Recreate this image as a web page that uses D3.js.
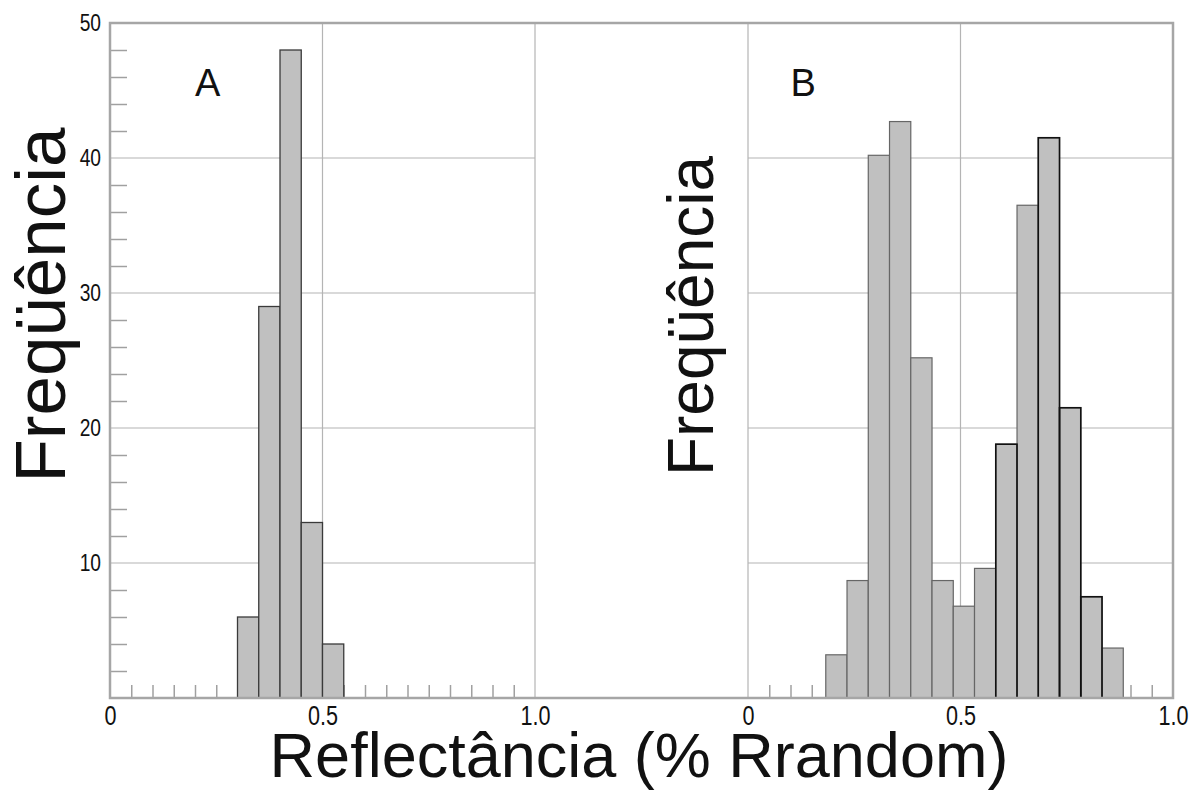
<!DOCTYPE html>
<html><head>
<meta charset="utf-8">
<title>Reflectância</title>
<script src="https://d3js.org/d3.v7.min.js"></script>
<style>
  body { margin: 0; background: #fff; }
  .grid { stroke: #b4b4b4; stroke-width: 1.2px; }
  .frame { stroke: #a6a6a6; stroke-width: 2.5px; fill: none; }
  .minor line { stroke: #a0a0a0; stroke-width: 1.5px; }
  .bar { fill: #c0c0c0; }
</style>
</head>
<body>
<svg id="chart" width="1189" height="792" font-family="Liberation Sans, Arial, sans-serif"></svg>
<script>
  // histogram A
  const binsA = [0.30, 0.35, 0.40, 0.45, 0.50];
  const countsA = [6, 29, 48, 13, 4];
  // histogram B
  const binsB = [0.183, 0.233, 0.283, 0.333, 0.383, 0.433, 0.483, 0.533, 0.583, 0.633, 0.683, 0.733, 0.783, 0.833];
  const countsB = [3.2, 8.7, 40.2, 42.7, 25.2, 8.7, 6.8, 9.6, 18.8, 36.5, 41.5, 21.5, 7.5, 3.7];
  // bins of B drawn with a black outline
  const outlinedB = [8, 10, 11, 12];
  const binWidth = 0.05;

  const yTicks = [10, 20, 30, 40, 50];
  const yMinor = d3.range(2, 50, 2).filter(d => d % 10 != 0);
  const xTicks = [0, 0.5, 1.0];
  const xMinor = d3.range(1, 20).map(d => d * 0.05).filter(d => Math.abs(d - 0.5) > 0.01);

  const svg = d3.select("#chart");
  const xA = d3.scaleLinear().domain([0, 1]).range([110, 535]);
  const xB = d3.scaleLinear().domain([0, 1]).range([748, 1173]);
  const y = d3.scaleLinear().domain([0, 50]).range([698, 23]);

  // grid lines inside each panel
  [xA, xB].forEach(x => {
    svg.append("g").selectAll("line").data(yTicks.slice(0, 4))
      .join("line").attr("class", "grid")
      .attr("x1", x(0)).attr("x2", x(1))
      .attr("y1", d => y(d)).attr("y2", d => y(d));
    svg.append("line").attr("class", "grid")
      .attr("x1", x(0.5)).attr("x2", x(0.5))
      .attr("y1", y(50)).attr("y2", y(0));
    // minor ticks along the bottom
    svg.append("g").attr("class", "minor")
      .attr("transform", "translate(0," + y(0) + ")")
      .call(d3.axisBottom(x).tickValues(xMinor).tickSize(-13).tickFormat(""))
      .call(g => g.select(".domain").remove());
  });
  svg.append("line").attr("class", "grid")
    .attr("x1", xA(1)).attr("x2", xA(1)).attr("y1", y(50)).attr("y2", y(0));
  svg.append("line").attr("class", "grid")
    .attr("x1", xB(0)).attr("x2", xB(0)).attr("y1", y(50)).attr("y2", y(0));

  // minor ticks on the left axis
  svg.append("g").attr("class", "minor")
    .attr("transform", "translate(" + xA(0) + ",0)")
    .call(d3.axisLeft(y).tickValues(yMinor).tickSize(-17).tickFormat(""))
    .call(g => g.select(".domain").remove());

  // bars
  svg.append("g").selectAll("rect").data(binsA)
    .join("rect").attr("class", "bar")
    .attr("x", d => xA(d)).attr("width", xA(binWidth) - xA(0))
    .attr("y", (d, i) => y(countsA[i])).attr("height", (d, i) => y(0) - y(countsA[i]))
    .attr("stroke", "#3a3a3a").attr("stroke-width", 1.3);

  svg.append("g").selectAll("rect").data(binsB)
    .join("rect").attr("class", "bar")
    .attr("x", d => xB(d)).attr("width", xB(binWidth) - xB(0))
    .attr("y", (d, i) => y(countsB[i])).attr("height", (d, i) => y(0) - y(countsB[i]))
    .attr("stroke", "#666").attr("stroke-width", 1.2);

  svg.append("g").selectAll("rect").data(outlinedB)
    .join("rect")
    .attr("fill", "none").attr("stroke", "#111").attr("stroke-width", 1.6)
    .attr("x", i => xB(binsB[i])).attr("width", xB(binWidth) - xB(0))
    .attr("y", i => y(countsB[i])).attr("height", i => y(0) - y(countsB[i]));

  // outer frame
  svg.append("rect").attr("class", "frame")
    .attr("x", xA(0)).attr("y", y(50))
    .attr("width", xB(1) - xA(0)).attr("height", y(0) - y(50));

  // y tick labels, drawn a bit condensed
  const yLab = svg.append("g")
    .attr("transform", "translate(" + (xA(0) - 9) + ",0)")
    .call(d3.axisLeft(y).tickValues(yTicks).tickSize(0).tickPadding(0))
    .attr("font-family", "Liberation Sans, Arial, sans-serif")
    .attr("font-size", 24);
  yLab.select(".domain").remove();
  yLab.selectAll("text").attr("fill", "#111").attr("transform", "scale(0.8,1)");

  // x tick labels
  [xA, xB].forEach(x => {
    const g = svg.append("g")
      .attr("transform", "translate(0," + (y(0) + 8) + ")")
      .call(d3.axisBottom(x).tickValues(xTicks).tickSize(0).tickPadding(0)
        .tickFormat(d => d == 0 ? "0" : d3.format(".1f")(d)))
      .attr("font-family", "Liberation Sans, Arial, sans-serif")
      .attr("font-size", 27);
    g.select(".domain").remove();
    g.selectAll("text").attr("fill", "#111").attr("transform", "scale(0.8,1)");
  });

  // panel letters
  svg.append("text").attr("x", xA(0.23)).attr("y", 96).attr("fill", "#111")
    .attr("text-anchor", "middle").attr("font-size", 38).text("A");
  svg.append("text").attr("x", xB(0.13)).attr("y", 96).attr("fill", "#111")
    .attr("text-anchor", "middle").attr("font-size", 38).text("B");

  // axis titles
  svg.append("text").attr("fill", "#111")
    .attr("transform", "translate(65,305) rotate(-90)")
    .attr("text-anchor", "middle").attr("font-size", 71)
    .text("Freqüência");
  svg.append("text").attr("fill", "#111")
    .attr("transform", "translate(713,316) rotate(-90)")
    .attr("text-anchor", "middle").attr("font-size", 64)
    .text("Freqüência");
  svg.append("text").attr("fill", "#111")
    .attr("x", 639).attr("y", 777)
    .attr("text-anchor", "middle").attr("font-size", 63)
    .text("Reflectância (% Rrandom)");
</script>
</body>
</html>
